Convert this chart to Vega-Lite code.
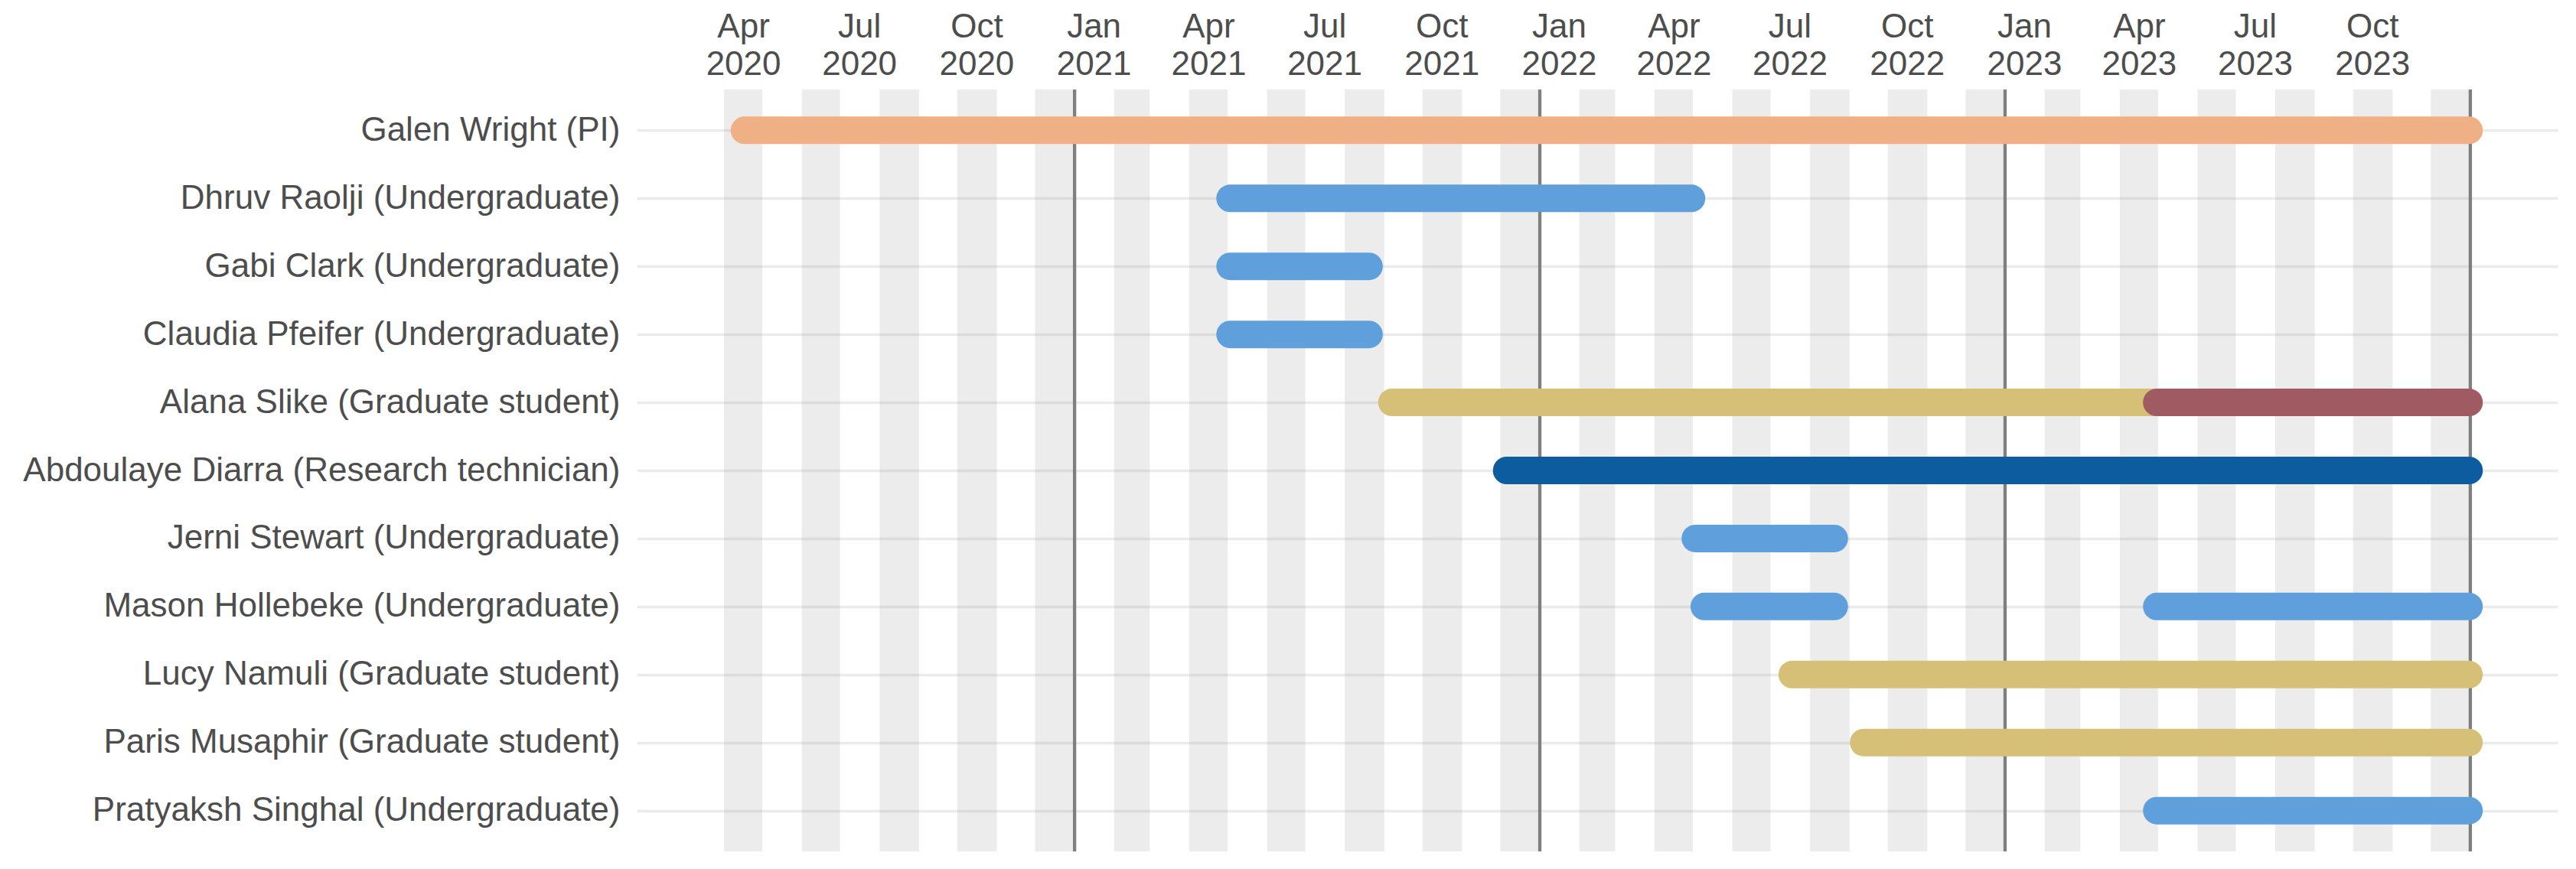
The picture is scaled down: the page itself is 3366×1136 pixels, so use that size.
{
  "$schema": "https://vega.github.io/schema/vega-lite/v6.json",
  "autosize": {"type": "none"},
  "padding": {"left": 832, "top": 117, "right": 24, "bottom": 23},
  "width": 2510,
  "height": 996,
  "background": "white",
  "config": {"view": {"stroke": null}, "font": "Liberation Sans"},
  "datasets": {
    "stripes": [
      {"s": "2020-04-01", "e": "2020-05-01"},
      {"s": "2020-06-01", "e": "2020-07-01"},
      {"s": "2020-08-01", "e": "2020-09-01"},
      {"s": "2020-10-01", "e": "2020-11-01"},
      {"s": "2020-12-01", "e": "2021-01-01"},
      {"s": "2021-02-01", "e": "2021-03-01"},
      {"s": "2021-04-01", "e": "2021-05-01"},
      {"s": "2021-06-01", "e": "2021-07-01"},
      {"s": "2021-08-01", "e": "2021-09-01"},
      {"s": "2021-10-01", "e": "2021-11-01"},
      {"s": "2021-12-01", "e": "2022-01-01"},
      {"s": "2022-02-01", "e": "2022-03-01"},
      {"s": "2022-04-01", "e": "2022-05-01"},
      {"s": "2022-06-01", "e": "2022-07-01"},
      {"s": "2022-08-01", "e": "2022-09-01"},
      {"s": "2022-10-01", "e": "2022-11-01"},
      {"s": "2022-12-01", "e": "2023-01-01"},
      {"s": "2023-02-01", "e": "2023-03-01"},
      {"s": "2023-04-01", "e": "2023-05-01"},
      {"s": "2023-06-01", "e": "2023-07-01"},
      {"s": "2023-08-01", "e": "2023-09-01"},
      {"s": "2023-10-01", "e": "2023-11-01"},
      {"s": "2023-12-01", "e": "2024-01-01"}
    ],
    "years": [
      {"d": "2021-01-01"},
      {"d": "2022-01-01"},
      {"d": "2023-01-01"},
      {"d": "2024-01-01"}
    ],
    "people": [
      {"name": "Galen Wright (PI)", "start": "2020-04-17", "end": "2023-12-31", "role": "PI"},
      {"name": "Dhruv Raolji (Undergraduate)", "start": "2021-05-03", "end": "2022-04-30", "role": "Undergraduate"},
      {"name": "Gabi Clark (Undergraduate)", "start": "2021-05-03", "end": "2021-08-20", "role": "Undergraduate"},
      {"name": "Claudia Pfeifer (Undergraduate)", "start": "2021-05-03", "end": "2021-08-20", "role": "Undergraduate"},
      {"name": "Alana Slike (Graduate student)", "start": "2021-09-07", "end": "2023-04-30", "role": "Graduate student"},
      {"name": "Alana Slike (Graduate student)", "start": "2023-04-30", "end": "2023-12-31", "role": "Postdoc"},
      {"name": "Abdoulaye Diarra (Research technician)", "start": "2021-12-06", "end": "2023-12-31", "role": "Research technician"},
      {"name": "Jerni Stewart (Undergraduate)", "start": "2022-05-03", "end": "2022-08-20", "role": "Undergraduate"},
      {"name": "Mason Hollebeke (Undergraduate)", "start": "2022-05-10", "end": "2022-08-20", "role": "Undergraduate"},
      {"name": "Mason Hollebeke (Undergraduate)", "start": "2023-04-30", "end": "2023-12-31", "role": "Undergraduate"},
      {"name": "Lucy Namuli (Graduate student)", "start": "2022-07-18", "end": "2023-12-31", "role": "Graduate student"},
      {"name": "Paris Musaphir (Graduate student)", "start": "2022-09-12", "end": "2023-12-31", "role": "Graduate student"},
      {"name": "Pratyaksh Singhal (Undergraduate)", "start": "2023-04-30", "end": "2023-12-31", "role": "Undergraduate"}
    ]
  },
  "layer": [
    {
      "data": {"name": "stripes"},
      "mark": {"type": "rect", "fill": "#808080", "opacity": 0.15},
      "encoding": {
        "x": {
          "field": "s", "type": "temporal",
          "scale": {
            "type": "utc",
            "domain": [
              {"year": 2020, "month": 1, "date": 23, "hours": 12, "utc": true},
              {"year": 2024, "month": 3, "date": 9, "hours": 12, "utc": true}
            ]
          },
          "axis": {
            "orient": "top",
            "title": null,
            "values": [
              {"year": 2020, "month": 4, "date": 16, "utc": true},
              {"year": 2020, "month": 7, "date": 16, "utc": true},
              {"year": 2020, "month": 10, "date": 16, "utc": true},
              {"year": 2021, "month": 1, "date": 16, "utc": true},
              {"year": 2021, "month": 4, "date": 16, "utc": true},
              {"year": 2021, "month": 7, "date": 16, "utc": true},
              {"year": 2021, "month": 10, "date": 16, "utc": true},
              {"year": 2022, "month": 1, "date": 16, "utc": true},
              {"year": 2022, "month": 4, "date": 16, "utc": true},
              {"year": 2022, "month": 7, "date": 16, "utc": true},
              {"year": 2022, "month": 10, "date": 16, "utc": true},
              {"year": 2023, "month": 1, "date": 16, "utc": true},
              {"year": 2023, "month": 4, "date": 16, "utc": true},
              {"year": 2023, "month": 7, "date": 16, "utc": true},
              {"year": 2023, "month": 10, "date": 16, "utc": true}
            ],
            "labelExpr": "[utcFormat(datum.value, '%b'), utcFormat(datum.value, '%Y')]",
            "labelFontSize": 44,
            "labelLineHeight": 49,
            "labelColor": "#4D4D4D",
            "labelFont": "Liberation Sans",
            "labelPadding": 60,
            "labelOverlap": false,
            "labelFlush": false,
            "ticks": false,
            "domain": false,
            "grid": false
          }
        },
        "x2": {"field": "e"}
      }
    },
    {
      "data": {"name": "years"},
      "mark": {"type": "rule", "color": "#7F7F7F", "strokeWidth": 4.3},
      "encoding": {
        "x": {"field": "d", "type": "temporal"}
      }
    },
    {
      "data": {"name": "people"},
      "mark": {"type": "rule", "strokeWidth": 36, "strokeCap": "round"},
      "encoding": {
        "x": {"field": "start", "type": "temporal"},
        "x2": {"field": "end"},
        "y": {
          "field": "name", "type": "nominal",
          "sort": [
            "Galen Wright (PI)",
            "Dhruv Raolji (Undergraduate)",
            "Gabi Clark (Undergraduate)",
            "Claudia Pfeifer (Undergraduate)",
            "Alana Slike (Graduate student)",
            "Abdoulaye Diarra (Research technician)",
            "Jerni Stewart (Undergraduate)",
            "Mason Hollebeke (Undergraduate)",
            "Lucy Namuli (Graduate student)",
            "Paris Musaphir (Graduate student)",
            "Pratyaksh Singhal (Undergraduate)"
          ],
          "scale": {"type": "point", "padding": 0.6},
          "axis": {
            "title": null,
            "labelFontSize": 44,
            "labelColor": "#4D4D4D",
            "labelFont": "Liberation Sans",
            "labelPadding": 22,
            "labelLimit": 2000,
            "ticks": false,
            "domain": false,
            "grid": true,
            "gridColor": "#EBEBEB",
            "gridWidth": 3.5
          }
        },
        "color": {
          "field": "role", "type": "nominal",
          "scale": {
            "domain": ["PI", "Undergraduate", "Graduate student", "Research technician", "Postdoc"],
            "range": ["#F0B085", "#5FA0DC", "#D6C078", "#0D5CA0", "#A05A62"]
          },
          "legend": null
        }
      }
    }
  ]
}
